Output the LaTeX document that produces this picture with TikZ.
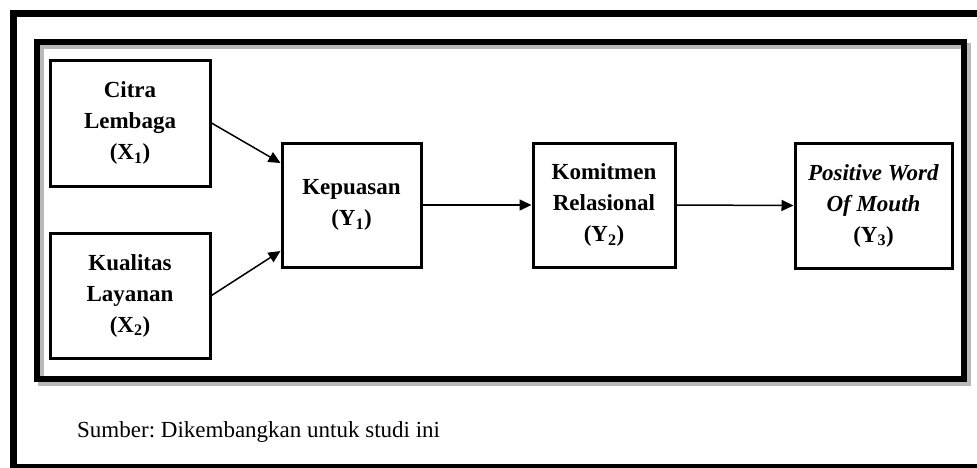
\documentclass[tikz,border=0pt]{standalone}
\usepackage{fontspec}
\setmainfont{Liberation Serif}
\frenchspacing
\usetikzlibrary{arrows.meta}
\begin{document}
\begin{tikzpicture}[x=1pt,y=-1pt,>={Triangle[length=12pt,width=11pt]}, line join=miter,
  kotak/.style={draw,line width=3pt,align=center,inner sep=0pt,
    font=\fontsize{23}{31}\selectfont\bfseries},
  panah/.style={->,line width=1.5pt}]
  \def\W{977} \def\H{467} % ukuran gambar
  \useasboundingbox (0,0) rectangle (\W,\H);
  \clip (0,0) rectangle (\W,\H);
  \draw[line width=7pt] (13.5,13) rectangle (\W+20,\H);
  \draw[gray!55,line width=6pt] (40.5,45.5) rectangle (967.5,382.5);
  \draw[line width=6pt] (36.5,41.5) rectangle (963.5,378.5);
  \node[kotak,minimum width=160pt,minimum height=126pt] (x1) at (130,123) {Citra\\Lembaga\\(X\textsubscript{1})};
  \node[kotak,minimum width=160pt,minimum height=125pt] (x2) at (130,295.5) {Kualitas\\Layanan\\(X\textsubscript{2})};
  \node[kotak,minimum width=139pt,minimum height=124pt] (y1) at (351.5,205) {Kepuasan\\(Y\textsubscript{1})};
  \node[kotak,minimum width=142pt,minimum height=124pt] (y2) at (604,205) {Komitmen\\Relasional\\(Y\textsubscript{2})};
  \node[kotak,minimum width=157pt,minimum height=125pt] (y3) at (873.5,205.5) {\textit{Positive Word}\\\textit{Of Mouth}\\(Y\textsubscript{3})};
  \draw[panah] (x1.east) -- ([yshift=42pt]y1.west);
  \draw[panah] (x2.east) -- ([yshift=-46pt]y1.west);
  \draw[panah] (y1.east) -- (y2.west);
  \draw[panah] (y2.east) -- (y3.west);
  \node[anchor=base west,inner sep=0pt,font=\fontsize{23}{28}\selectfont] (sumber) at (77,437) {Sumber: Dikembangkan untuk studi ini};
\end{tikzpicture}
\end{document}
